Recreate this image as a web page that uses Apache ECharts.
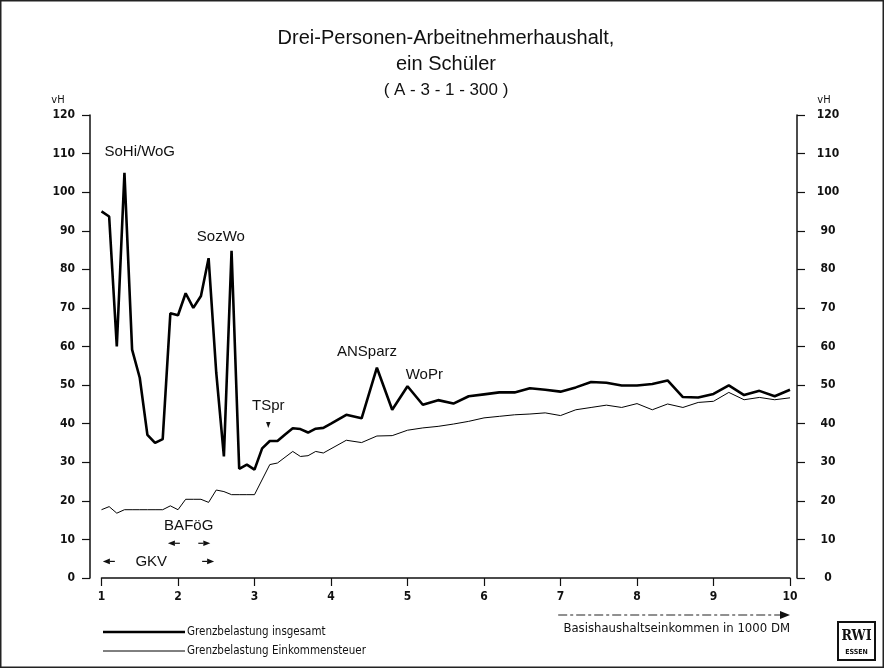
<!DOCTYPE html>
<html><head><meta charset="utf-8">
<script src="https://cdn.jsdelivr.net/npm/echarts@6/dist/echarts.min.js"></script>
<style>html,body{margin:0;padding:0;background:#fff}#c{width:884px;height:668px}</style>
</head><body><div id="c"></div>
<script>
// ---- data ----
const xTicks = [1,2,3,4,5,6,7,8,9,10];
const yTicks = [0,10,20,30,40,50,60,70,80,90,100,110,120];
const xTotal = [1.0,1.1,1.2,1.3,1.4,1.5,1.6,1.7,1.8,1.9,2.0,2.1,2.2,2.3,2.4,2.5,2.6,2.7,2.8,2.9,3.0,3.1,3.2,3.3,3.4,3.5,3.6,3.7,3.8,3.9,4.0,
  4.2,4.4,4.6,4.8,5.0,5.2,5.4,5.6,5.8,6.0,6.2,6.4,6.6,6.8,7.0,7.2,7.4,7.6,7.8,8.0,8.2,8.4,8.6,8.8,9.0,9.2,9.4,9.6,9.8,10.0];
const yTotal = [95,93.7,60,105,59.2,51.9,37.1,35.0,36.0,68.6,68.1,73.8,70.0,73.1,82.9,53.2,31.5,84.8,28.3,29.4,28.1,33.6,35.5,35.5,37.2,38.8,38.6,37.7,38.7,38.9,40.0,
  42.3,41.4,54.5,43.6,49.7,44.9,46.1,45.2,47.1,47.6,48.1,48.1,49.2,48.8,48.3,49.4,50.8,50.6,49.9,49.9,50.3,51.2,46.9,46.8,47.7,49.9,47.4,48.5,47.1,48.8];
const xTax = [1.0,1.1,1.2,1.3,1.4,1.5,1.6,1.7,1.8,1.9,2.0,2.1,2.2,2.3,2.4,2.5,2.6,2.7,2.8,2.9,3.0,3.2,3.3,3.5,3.6,3.7,3.8,3.9,
  4.2,4.4,4.6,4.8,5.0,5.2,5.4,5.6,5.8,6.0,6.2,6.4,6.6,6.8,7.0,7.2,7.4,7.6,7.8,8.0,8.2,8.4,8.6,8.8,9.0,9.2,9.4,9.6,9.8,10.0];
const yTax = [17.7,18.5,16.8,17.7,17.7,17.7,17.7,17.7,17.7,18.7,17.7,20.4,20.4,20.4,19.6,22.8,22.4,21.6,21.6,21.6,21.6,29.4,29.8,32.8,31.5,31.7,32.8,32.4,
  35.7,35.1,36.8,36.9,38.3,38.9,39.3,39.9,40.6,41.5,41.9,42.3,42.5,42.8,42.1,43.6,44.2,44.8,44.2,45.2,43.6,45.1,44.2,45.5,45.8,48.1,46.2,46.8,46.2,46.7];
const seriesNames = ['Grenzbelastung insgesamt','Grenzbelastung Einkommensteuer'];
const titleLines = ['Drei-Personen-Arbeitnehmerhaushalt,','ein Schüler','( A - 3 - 1 - 300 )'];
const annotations = [
  {text:'SoHi/WoG', x:1.5, y:110.5},
  {text:'SozWo', x:2.56, y:88.5},
  {text:'TSpr', x:3.18, y:44.7},
  {text:'ANSparz', x:4.47, y:58.7},
  {text:'WoPr', x:5.22, y:52.7},
  {text:'BAFöG', x:2.14, y:13.5},
  {text:'GKV', x:1.65, y:4.3}
];
const rangeArrows = [
  {x:1.92, y:9.0, dir:-1},{x:2.37, y:9.0, dir:1},
  {x:1.07, y:4.3, dir:-1},{x:2.42, y:4.3, dir:1}
];
const tsprMarker = {x:3.18, y:38.6};

const FONT = "'DejaVu Sans Condensed','Liberation Sans Narrow',sans-serif";
const TFONT = "'Liberation Sans','Arial',sans-serif";
const LINE_W = [2.6, 1];

const chart = echarts.init(document.getElementById('c'), null, {renderer:'canvas'});
const pairs = (xs, ys) => xs.map((x,i)=>[x, ys[i]]);

const yAxisCommon = {
  type:'value', min:0, max:120, interval:10,
  splitLine:{show:false},
  axisLine:{show:true, lineStyle:{color:'#111', width:1.5}},
  axisTick:{show:true, length:8, lineStyle:{color:'#111', width:1.2}},
};

chart.setOption({
  animation:false,
  backgroundColor:'#fff',
  grid:{left:101.5, right:94, top:115, bottom:90},
  xAxis:{type:'value', min:1, max:10, interval:1,
    splitLine:{show:false},
    axisLine:{lineStyle:{color:'#111', width:1.5}},
    axisTick:{show:true, inside:false, length:8, lineStyle:{color:'#111', width:1.2}},
    axisLabel:{color:'#111', fontSize:12, fontWeight:'bold', fontFamily:FONT, margin:13,
      formatter:v=> xTicks.includes(v) ? String(v) : ''}
  },
  yAxis:[
    Object.assign({}, yAxisCommon, {position:'left', offset:11.5,
      axisLabel:{color:'#111', fontSize:12, fontWeight:'bold', fontFamily:FONT, margin:15,
        formatter:v=> yTicks.includes(v) ? String(v) : ''}}),
    Object.assign({}, yAxisCommon, {position:'right', offset:7,
      axisLabel:{color:'#111', fontSize:12, fontWeight:'bold', fontFamily:FONT, margin:31, align:'center',
        formatter:v=> yTicks.includes(v) ? String(v) : ''}})
  ],
  series:[
    {name:seriesNames[0], type:'line', data:pairs(xTotal,yTotal), showSymbol:false, symbol:'none',
      lineStyle:{color:'#000', width:LINE_W[0]}, itemStyle:{color:'#000'}, z:3},
    {name:seriesNames[1], type:'line', data:pairs(xTax,yTax), showSymbol:false, symbol:'none',
      lineStyle:{color:'#000', width:LINE_W[1]}, itemStyle:{color:'#000'}, z:2}
  ]
});

const P = (x,y)=>chart.convertToPixel({gridIndex:0}, [x,y]);
const g = [];
// frame
g.push({type:'rect', shape:{x:0.75,y:0.75,width:882.5,height:666.5}, style:{fill:null, stroke:'#222', lineWidth:1.5}, silent:true});
// title
titleLines.forEach((t,i)=>{
  g.push({type:'text', x:446, y:[38,64,90][i], style:{text:t, fill:'#111', font:(i===2?'17px ':'20px ')+TFONT, textAlign:'center', textVerticalAlign:'middle'}});
});
// vH labels
const pTop = P(1,120);
g.push({type:'text', x:58, y:pTop[1]-15, style:{text:'vH', fill:'#111', font:'11px '+FONT, textAlign:'center', textVerticalAlign:'middle'}});
g.push({type:'text', x:824, y:pTop[1]-15, style:{text:'vH', fill:'#111', font:'11px '+FONT, textAlign:'center', textVerticalAlign:'middle'}});
// annotations
annotations.forEach(a=>{
  const p = P(a.x,a.y);
  g.push({type:'text', x:p[0], y:p[1], style:{text:a.text, fill:'#111', font:'15px '+TFONT, textAlign:'center', textVerticalAlign:'middle'}});
});
// range arrows
rangeArrows.forEach(a=>{
  const p = P(a.x,a.y), d=a.dir;
  g.push({type:'polygon', shape:{points:[[p[0]+d*4,p[1]],[p[0]-d*3,p[1]-2.8],[p[0]-d*3,p[1]+2.8]]}, style:{fill:'#111'}});
  g.push({type:'line', shape:{x1:p[0]-d*3,y1:p[1],x2:p[0]-d*8,y2:p[1]}, style:{stroke:'#111', lineWidth:1.2}});
});
// TSpr marker
const tm = P(tsprMarker.x, tsprMarker.y);
g.push({type:'polygon', shape:{points:[[tm[0]-2.2,tm[1]-7],[tm[0]+2.2,tm[1]-7],[tm[0],tm[1]-1]]}, style:{fill:'#111'}});
// legend (drawn)
seriesNames.forEach((n,i)=>{
  const y = 632 + i*19;
  g.push({type:'line', shape:{x1:103,y1:y,x2:185,y2:y}, style:{stroke:'#000', lineWidth:LINE_W[i]}});
  g.push({type:'text', x:187, y:y, style:{text:n, fill:'#111', font:'11.5px '+FONT, textAlign:'left', textVerticalAlign:'middle'}});
});
// x-axis title with dashed arrow
const ax1 = P(6.97,0), ax2 = P(10,0);
g.push({type:'line', shape:{x1:ax1[0], y1:615, x2:ax2[0]-9, y2:615}, style:{stroke:'#222', lineWidth:1.2, lineDash:[9,3,3,3]}});
g.push({type:'polygon', shape:{points:[[ax2[0],615],[ax2[0]-10,611],[ax2[0]-10,619]]}, style:{fill:'#111'}});
g.push({type:'text', x:ax2[0], y:629, style:{text:'Basishaushaltseinkommen in 1000 DM', fill:'#111', font:'13px '+FONT, textAlign:'right', textVerticalAlign:'middle'}});
// RWI logo
g.push({type:'rect', shape:{x:838,y:622,width:37,height:38}, style:{fill:'#fff', stroke:'#111', lineWidth:2}});
g.push({type:'text', x:856.5, y:636, style:{text:'RWI', fill:'#111', font:'bold 14px "DejaVu Serif Condensed","Liberation Serif",serif', textAlign:'center', textVerticalAlign:'middle'}});
g.push({type:'text', x:856.5, y:652.5, style:{text:'ESSEN', fill:'#111', font:'bold 7px '+FONT, textAlign:'center', textVerticalAlign:'middle'}});
chart.setOption({graphic:g});
</script></body></html>
